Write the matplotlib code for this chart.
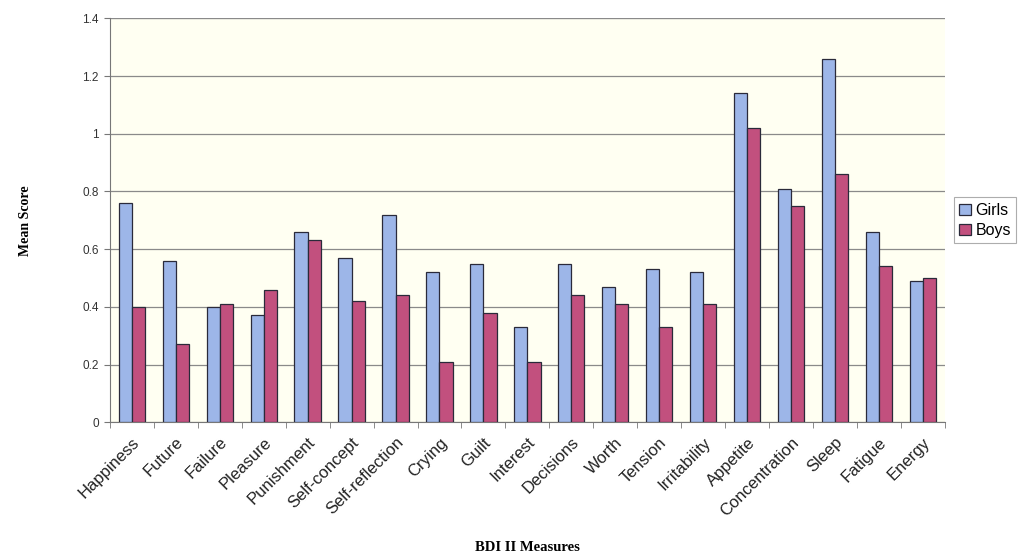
import numpy as np
import matplotlib.pyplot as plt

measures = ['Happiness', 'Future', 'Failure', 'Pleasure', 'Punishment', 'Self-concept',
            'Self-reflection', 'Crying', 'Guilt', 'Interest', 'Decisions', 'Worth',
            'Tension', 'Irritability', 'Appetite', 'Concentration', 'Sleep', 'Fatigue', 'Energy']
girls = [0.76, 0.56, 0.40, 0.37, 0.66, 0.57, 0.72, 0.52, 0.55, 0.33,
         0.55, 0.47, 0.53, 0.52, 1.14, 0.81, 1.26, 0.66, 0.49]
boys = [0.40, 0.27, 0.41, 0.46, 0.63, 0.42, 0.44, 0.21, 0.38, 0.21,
        0.44, 0.41, 0.33, 0.41, 1.02, 0.75, 0.86, 0.54, 0.50]

x = np.arange(len(measures))
w = 0.3

fig = plt.figure(figsize=(10.27, 5.57), dpi=100)
ax = fig.add_axes([0.107, 0.242, 0.813, 0.725])
ax.set_facecolor('#fffff2')

ax.bar(x - w / 2, girls, w, color='#9db6e8', edgecolor='#2a2a3a', linewidth=0.9, label='Girls', zorder=3)
ax.bar(x + w / 2, boys, w, color='#c2507e', edgecolor='#2a2a3a', linewidth=0.9, label='Boys', zorder=3)

ax.set_xlim(-0.5, len(measures) - 0.5)
ax.set_ylim(0, 1.4)
ax.set_yticks(np.arange(0, 1.41, 0.2))
ax.set_yticklabels(['0', '0.2', '0.4', '0.6', '0.8', '1', '1.2', '1.4'],
                   fontsize=8.5, family='Liberation Sans', color='#333333')
ax.yaxis.grid(True, color='#8a8a8a', linewidth=0.9, zorder=0)

# category labels at the centres, tick marks on the boundaries
ax.set_xticks(x)
ax.set_xticklabels(measures, rotation=45, ha='right', rotation_mode='anchor',
                   fontsize=12, family='Liberation Sans', color='#222222')
ax.tick_params(axis='x', length=0, pad=9)
ax.set_xticks(np.arange(-0.5, len(measures), 1), minor=True)
ax.tick_params(axis='x', which='minor', length=4, color='#777777')
ax.tick_params(axis='y', length=4, color='#777777', pad=4)

for s in ['top', 'right']:
    ax.spines[s].set_visible(False)
ax.axhline(1.4, color='#dddddd', linewidth=1.0, zorder=1)
ax.spines['left'].set_color('#777777')
ax.spines['bottom'].set_color('#777777')

ax.set_ylabel('Mean Score', family='Liberation Serif', fontweight='bold', fontsize=10, labelpad=36)
ax.set_xlabel('BDI II Measures', family='Liberation Serif', fontweight='bold', fontsize=10.5, labelpad=16)

leg = ax.legend(loc='center left', bbox_to_anchor=(1.005, 0.5),
                prop={'family': 'Liberation Sans', 'size': 11.5}, frameon=True, fancybox=False,
                handlelength=0.7, handleheight=0.7, handletextpad=0.3, borderpad=0.35,
                labelspacing=0.3, borderaxespad=0.3)
leg.get_frame().set_edgecolor('#999999')
leg.get_frame().set_linewidth(0.8)

fig.savefig('out.png', dpi=100)
